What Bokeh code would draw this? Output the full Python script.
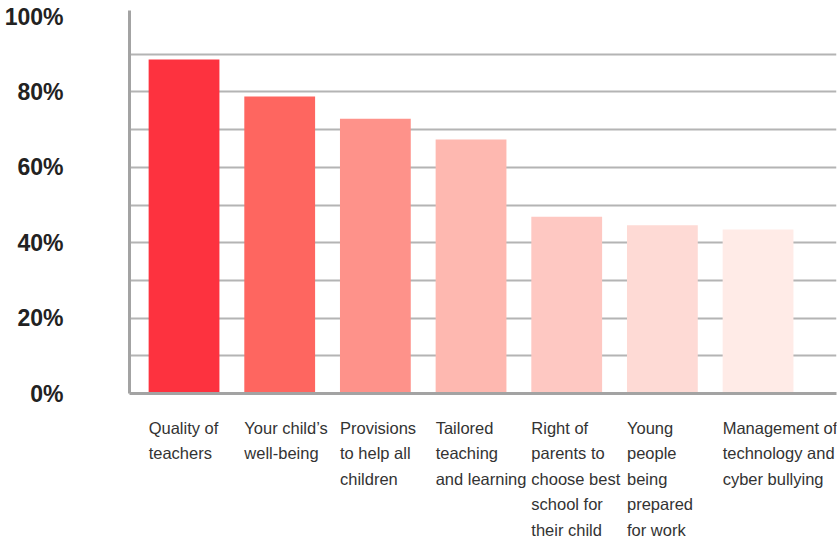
from bokeh.plotting import figure
from bokeh.models import Range1d, FixedTicker
from bokeh.layouts import column
from bokeh.core.properties import value
from bokeh.embed import file_html
from bokeh.resources import INLINE

categories = [
    "Quality of\nteachers",
    "Your child\u2019s\nwell-being",
    "Provisions\nto help all\nchildren",
    "Tailored\nteaching\nand learning",
    "Right of\nparents to\nchoose best\nschool for\ntheir child",
    "Young\npeople\nbeing\nprepared\nfor work",
    "Management of\ntechnology and\ncyber bullying",
]
values = [88.6, 78.8, 72.9, 67.4, 46.9, 44.6, 43.5]
colors = ["#fd323f", "#fe6660", "#fe928a", "#feb8b0", "#fec8c2", "#fedad5", "#ffebe7"]
y_ticks = [0, 20, 40, 60, 80, 100]
y_tick_labels = ["0%", "20%", "40%", "60%", "80%", "100%"]
grid_ticks = [10, 20, 30, 40, 50, 60, 70, 80, 90]

FONT = "Liberation Sans"
idx = list(range(len(categories)))
bar_width = 0.74
x_start, x_end = -0.57, 6.82

p = figure(width=838, height=409,
           x_range=Range1d(x_start, x_end), y_range=Range1d(0, 101.6),
           output_backend="svg", toolbar_location=None,
           x_axis_location="below", y_axis_location="left",
           min_border_left=129, min_border_right=2,
           min_border_top=10, min_border_bottom=16)
p.outline_line_color = None
p.background_fill_color = "white"
p.border_fill_color = "white"

p.xgrid.visible = False
p.ygrid.ticker = FixedTicker(ticks=grid_ticks)
p.ygrid.grid_line_color = "#b4b4b4"
p.ygrid.grid_line_width = 2

p.vbar(x=idx, top=values, bottom=0, width=bar_width, fill_color=colors, line_color=None)

yax = p.yaxis[0]
yax.ticker = FixedTicker(ticks=y_ticks)
yax.major_label_overrides = {t: l for t, l in zip(y_ticks, y_tick_labels)}
yax.major_label_text_font = FONT
yax.major_label_text_font_size = "23px"
yax.major_label_text_font_style = "bold"
yax.major_label_text_color = "#222222"
yax.axis_line_color = "#a3a3a3"
yax.axis_line_width = 3
yax.major_tick_line_color = None
yax.minor_tick_line_color = None
yax.major_label_standoff = 60

xax = p.xaxis[0]
xax.ticker = FixedTicker(ticks=[])
xax.major_label_standoff = 0
xax.major_tick_out = 0
xax.major_tick_in = 0
xax.axis_line_color = "#a3a3a3"
xax.axis_line_width = 3
xax.major_tick_line_color = None
xax.minor_tick_line_color = None

# category labels, left-aligned under each bar
p2 = figure(width=838, height=130, x_range=p.x_range, y_range=Range1d(0, 1),
            output_backend="svg", toolbar_location=None,
            x_axis_location=None, y_axis_location=None,
            min_border_left=129, min_border_right=2,
            min_border_top=9, min_border_bottom=0)
p2.outline_line_color = None
p2.grid.visible = False
p2.background_fill_color = "white"
p2.border_fill_color = "white"
p2.text(x=[i - bar_width / 2 for i in idx], y=[1] * len(idx), text=categories,
        text_font=value(FONT), text_font_size="16.5px", text_color="#333333",
        text_align="left", text_baseline="top", text_line_height=1.42)

layout = column(p, p2, spacing=0)
open("out.html", "w").write(file_html(layout, INLINE))
